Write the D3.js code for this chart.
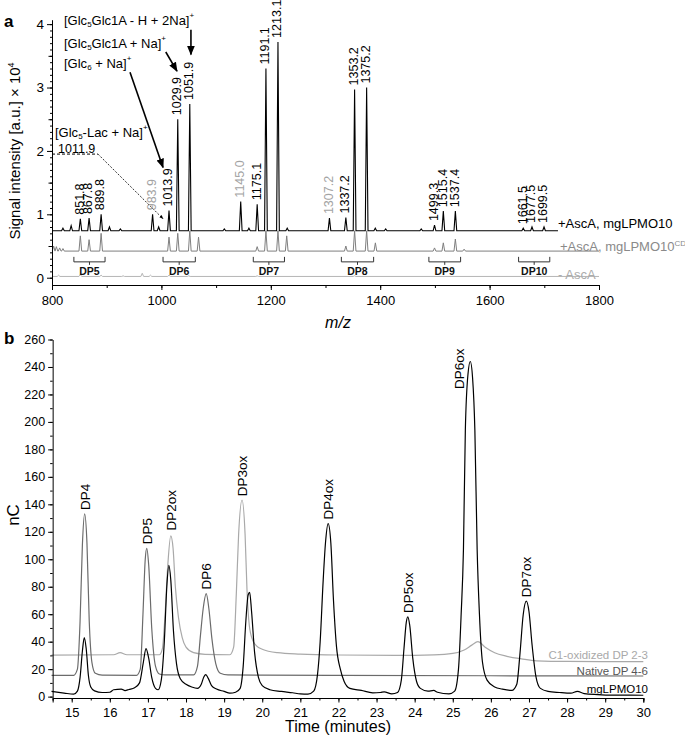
<!DOCTYPE html>
<html>
<head>
<meta charset="utf-8">
<script src="https://cdn.jsdelivr.net/npm/d3@7"></script>
<style>
  body { margin: 0; background: #fff; }
  svg { font-family: "Liberation Sans", Arial, sans-serif; }
  .axis path, .axis line { stroke: #000; }
  .axis text { fill: #000; }
</style>
</head>
<body>
<svg id="chart" width="685" height="737"></svg>
<script>
// ---------- panel a: MALDI-TOF spectra (intensity x 10^4) ----------
const mzBlack = [820, 835, 851.8, 867.8, 889.8, 905, 925, 983.9, 995, 1013.9, 1029.9, 1051.9, 1115, 1145.0, 1160, 1175.1, 1191.1, 1213.1, 1230, 1307.2, 1337.2, 1353.2, 1375.2, 1391, 1410, 1475, 1499.3, 1515.4, 1537.4, 1661.5, 1677.5, 1699.5];
const intBlack = [0.78, 0.82, 0.93, 0.94, 1.0, 0.8, 0.77, 1.0, 0.8, 1.06, 2.5, 2.74, 0.77, 1.2, 0.78, 1.16, 3.3, 3.72, 0.78, 0.94, 0.95, 2.97, 3.0, 0.78, 0.77, 0.77, 0.83, 1.05, 1.05, 0.78, 0.8, 0.8];
const baseBlack = 0.74;

const mzCD = [803, 808, 814, 820, 851.8, 867.8, 889.8, 1013.9, 1029.9, 1051.9, 1067.9, 1175.1, 1191.1, 1213.1, 1229.1, 1337.2, 1353.2, 1375.2, 1391.2, 1499.3, 1515.4, 1537.4, 1553.4];
const intCD = [0.5, 0.49, 0.47, 0.46, 0.66, 0.6, 0.7, 0.64, 0.7, 0.74, 0.64, 0.49, 0.74, 0.74, 0.66, 0.5, 0.74, 0.74, 0.55, 0.47, 0.55, 0.61, 0.45];
const baseCD = 0.42;

const mzNoAsc = [812, 851.8, 889.8, 930, 965, 980, 1013.9, 1050, 1175.1, 1353.2];
const intNoAsc = [0.04, 0.05, 0.04, 0.03, 0.07, 0.04, 0.04, 0.03, 0.03, 0.03];
const baseNoAsc = 0.02;

const peakLabelsA = [851.8, 867.8, 889.8, 983.9, 1013.9, 1029.9, 1051.9, 1145.0, 1175.1, 1191.1, 1213.1, 1307.2, 1337.2, 1353.2, 1375.2, 1499.3, 1515.4, 1537.4, 1661.5, 1677.5, 1699.5];
const greyLabelsA = [983.9, 1145.0, 1307.2];

const dpNames = ["DP5", "DP6", "DP7", "DP8", "DP9", "DP10"];
const dpStart = [840, 1003, 1168, 1329, 1489, 1653];
const dpEnd = [897, 1062, 1225, 1388, 1547, 1710];

// ---------- panel b: HPAEC-PAD chromatograms (nC) ----------
const traceLPMO = [[14.47,3.8],[14.8,2.6],[15.05,1.8],[15.15,4],[15.22,14],[15.28,33],[15.33,43],[15.38,35],[15.44,15],[15.5,7],[15.6,4.2],[15.8,3],[16.0,3.2],[16.1,5],[16.3,5.5],[16.4,4.4],[16.5,5.2],[16.65,6.5],[16.78,10],[16.88,25],[16.95,35],[17.02,28],[17.1,14],[17.2,6],[17.27,5],[17.35,12],[17.43,40],[17.5,82],[17.55,95.5],[17.6,85],[17.67,48],[17.75,24],[17.85,13],[18.0,9],[18.15,7],[18.3,6],[18.4,9],[18.47,14.5],[18.52,16],[18.58,13.5],[18.67,8],[18.8,5.5],[19.0,3.8],[19.15,2.5],[19.3,3.2],[19.42,6],[19.5,22],[19.57,55],[19.63,74],[19.67,76],[19.72,62],[19.8,32],[19.9,14],[20.0,8],[20.2,5],[20.5,3.8],[20.8,2.8],[21.0,2],[21.2,1.8],[21.35,4],[21.45,16],[21.52,40],[21.6,85],[21.66,112],[21.73,126],[21.8,112],[21.87,70],[21.95,36],[22.05,20],[22.15,11],[22.3,6],[22.6,4.5],[22.9,2.8],[23.1,3],[23.2,3.5],[23.4,2],[23.55,3],[23.65,12],[23.72,35],[23.78,54],[23.82,58],[23.87,52],[23.95,28],[24.05,11],[24.15,6],[24.35,4],[24.5,4.5],[24.6,3.2],[24.9,2],[25.05,4],[25.15,20],[25.22,60],[25.28,107],[25.33,194],[25.4,235],[25.46,244],[25.52,232],[25.58,194],[25.64,107],[25.7,60],[25.78,25],[25.9,12],[26.1,7],[26.3,5.5],[26.55,4.5],[26.68,9],[26.76,30],[26.85,60],[26.93,69.5],[27.0,62],[27.08,38],[27.18,15],[27.3,6],[27.5,3.8],[27.8,3],[28.1,2.5],[28.27,3.8],[28.45,2.2],[28.8,1.5],[29.2,1.1],[30,1.0]];
const traceNative = [[14.47,15.5],[15.05,15.5],[15.15,20],[15.22,55],[15.28,110],[15.34,133],[15.4,112],[15.46,55],[15.53,25],[15.62,17],[15.8,15.6],[16.7,15.5],[16.8,20],[16.87,60],[16.93,100],[16.97,108],[17.02,96],[17.1,50],[17.2,22],[17.3,16.5],[17.45,15.8],[18.2,15.8],[18.3,22],[18.38,45],[18.45,64],[18.53,75],[18.6,64],[18.68,42],[18.78,24],[18.9,17],[19.1,15.8],[20,15.6],[22,15.4],[26,15.2],[30,15.0]];
const traceC1 = [[14.47,30.2],[16.1,30.5],[16.27,32],[16.45,30.5],[17.3,30.5],[17.38,35],[17.45,60],[17.52,95],[17.6,117],[17.66,108],[17.72,80],[17.8,58],[17.9,43],[18.0,36],[18.2,32],[18.5,30.8],[19.15,30.5],[19.25,36],[19.32,75],[19.38,118],[19.47,143],[19.55,118],[19.6,78],[19.66,52],[19.75,41],[19.85,37],[20.0,34.5],[20.4,32],[21,31],[22,30.3],[23.5,30],[24.5,30.4],[25.0,31.5],[25.3,34],[25.5,37.5],[25.66,40],[25.85,36],[26.1,32],[26.4,29.5],[26.8,27.5],[27.2,26],[28,25.6],[30,25.5]];

const peakNamesB = ["DP4", "DP5", "DP2ox", "DP6", "DP3ox", "DP4ox", "DP5ox", "DP6ox", "DP7ox"];
const peakTimesB = [15.35, 16.97, 17.62, 18.52, 19.47, 21.73, 23.82, 25.18, 26.94];
const peakTopsB = [133, 108, 118, 75, 143, 126, 58, 221, 69.5];

const svg = d3.select("#chart");

// ================= panel a =================
const xa = d3.scaleLinear().domain([800, 1800]).range([52, 599]);
const ya = d3.scaleLinear().domain([-0.115, 4.07]).range([285, 19.7]);

function spikes(mzs, ints, base, from, to) {
  let pts = [[from, base]];
  mzs.forEach(function (m, i) {
    pts.push([m - 2.5, base], [m, ints[i]], [m + 2.5, base]);
  });
  pts.push([to, base]);
  return pts;
}
let lineA = d3.line().x(d => xa(d[0])).y(d => ya(d[1]));

svg.append("path").datum(spikes(mzNoAsc, intNoAsc, baseNoAsc, 800, 1800))
  .attr("d", lineA).attr("fill", "none").attr("stroke", "#b5b5b5").attr("stroke-width", 1);
svg.append("path").datum(spikes(mzCD, intCD, baseCD, 800, 1800))
  .attr("d", lineA).attr("fill", "none").attr("stroke", "#7f7f7f").attr("stroke-width", 1);
svg.append("path").datum(spikes(mzBlack, intBlack, baseBlack, 800, 1725))
  .attr("d", lineA).attr("fill", "none").attr("stroke", "#000").attr("stroke-width", 1.1);

// axes a
svg.append("g").attr("class", "axis").attr("transform", "translate(0,285)")
  .call(d3.axisBottom(xa).tickValues(d3.range(800, 1801, 100)).tickSize(3).tickFormat(""));
svg.append("g").attr("class", "axis").attr("transform", "translate(0,285)")
  .call(d3.axisBottom(xa).tickValues(d3.range(800, 1801, 200)).tickSize(5).tickFormat(d3.format("d")))
  .call(g => g.selectAll("text").attr("font-size", 13).attr("dy", "0.9em"));
svg.append("g").attr("class", "axis").attr("transform", "translate(52,0)")
  .call(d3.axisLeft(ya).tickValues(d3.range(0, 40.5, 1).map(v => v / 10)).tickSize(2).tickFormat(""))
  .call(g => g.select(".domain").remove());
svg.append("g").attr("class", "axis").attr("transform", "translate(52,0)")
  .call(d3.axisLeft(ya).tickValues([0.5, 1.5, 2.5, 3.5]).tickSize(3.5).tickFormat(""))
  .call(g => g.select(".domain").remove());
svg.append("g").attr("class", "axis").attr("transform", "translate(52,0)")
  .call(d3.axisLeft(ya).tickValues([0, 1, 2, 3, 4]).tickSize(5).tickSizeOuter(0).tickFormat(d3.format("d")))
  .call(g => g.selectAll("text").attr("font-size", 13.5));

// peak labels a
peakLabelsA.forEach(function (m) {
  let idx = mzBlack.indexOf(m);
  let top = intBlack[idx];
  svg.append("text")
    .attr("transform", `translate(${xa(m) - 1},${ya(top) - 4}) rotate(-90)`)
    .attr("dy", "0.35em")
    .attr("font-size", 12.5)
    .attr("fill", greyLabelsA.includes(m) ? "#a3a3a3" : "#000")
    .text(m.toFixed(1));
});

// DP brackets
const yBr = ya(0.25);
dpNames.forEach(function (name, i) {
  let x0 = xa(dpStart[i]), x1 = xa(dpEnd[i]), xm = (x0 + x1) / 2;
  svg.append("path")
    .attr("d", `M${x0},${yBr - 5}V${yBr}H${x1}V${yBr - 5}M${xm},${yBr}V${yBr + 3}`)
    .attr("fill", "none").attr("stroke", "#333").attr("stroke-width", 1);
  svg.append("text").attr("x", xm).attr("y", yBr + 13)
    .attr("text-anchor", "middle").attr("font-size", 10.5).attr("font-weight", "bold")
    .attr("fill", "#111").text(name);
});

// series labels a
svg.append("text").attr("x", 558).attr("y", 227.5).attr("font-size", 13).attr("fill", "#000").text("+AscA, mgLPMO10");
let t2 = svg.append("text").attr("x", 560).attr("y", 251).attr("font-size", 13).attr("fill", "#8a8a8a");
t2.append("tspan").text("+AscA, mgLPMO10");
t2.append("tspan").attr("font-size", 8).attr("dy", -5).text("CD");
svg.append("text").attr("x", 558).attr("y", 278.5).attr("font-size", 13).attr("fill", "#ababab").text("- AscA");

// annotations (compound names + arrows)
const defs = svg.append("defs");
defs.append("marker").attr("id", "ah").attr("viewBox", "0 0 10 10").attr("refX", 9).attr("refY", 5)
  .attr("markerWidth", 6).attr("markerHeight", 6).attr("orient", "auto")
  .append("path").attr("d", "M0,1L10,5L0,9Z").attr("fill", "#000");
defs.append("marker").attr("id", "ahs").attr("viewBox", "0 0 10 10").attr("refX", 9).attr("refY", 5)
  .attr("markerWidth", 5).attr("markerHeight", 5).attr("orient", "auto")
  .append("path").attr("d", "M0,1L10,5L0,9Z").attr("fill", "#000");

function formula(x, y, parts) {
  let t = svg.append("text").attr("x", x).attr("y", y).attr("font-size", 13).attr("fill", "#000");
  parts.forEach(function (p) {
    if (p[1] === "sub") t.append("tspan").attr("font-size", 8).attr("dy", 2).text(p[0]);
    else if (p[1] === "sup") t.append("tspan").attr("font-size", 8).attr("dy", -7).text(p[0]);
    else if (p[1] === "back") t.append("tspan").attr("dy", -2).text(p[0]);
    else t.append("tspan").text(p[0]);
  });
}
formula(64, 24.5, [["[Glc"], ["5", "sub"], ["Glc1A - H + 2Na]", "back"], ["+", "sup"]]);
formula(64, 47.5, [["[Glc"], ["5", "sub"], ["Glc1A + Na]", "back"], ["+", "sup"]]);
formula(64, 67.5, [["[Glc"], ["6", "sub"], [" + Na]", "back"], ["+", "sup"]]);
formula(55, 137, [["[Glc"], ["5", "sub"], ["-Lac + Na]", "back"], ["+", "sup"]]);
svg.append("text").attr("x", 58).attr("y", 153).attr("font-size", 12.5).text("1011.9");

const arrows = [[[1054, 3.91], [1054, 3.52]], [[1008, 3.56], [1028.5, 3.26]], [[942.6, 3.24], [1003, 1.74]]];
arrows.forEach(function (a) {
  svg.append("line").attr("x1", xa(a[0][0])).attr("y1", ya(a[0][1]))
    .attr("x2", xa(a[1][0])).attr("y2", ya(a[1][1]))
    .attr("stroke", "#000").attr("stroke-width", 1.6).attr("marker-end", "url(#ah)");
});
svg.append("line").attr("x1", xa(800)).attr("y1", ya(1.95)).attr("x2", xa(884)).attr("y2", ya(1.95))
  .attr("stroke", "#000").attr("stroke-width", 1).attr("stroke-dasharray", "3,2");
svg.append("line").attr("x1", xa(884)).attr("y1", ya(1.95)).attr("x2", xa(1003)).attr("y2", ya(0.93))
  .attr("stroke", "#000").attr("stroke-width", 0.8).attr("stroke-dasharray", "2,1.5").attr("marker-end", "url(#ahs)");

// axis titles a
svg.append("text").attr("transform", "translate(20,151) rotate(-90)").attr("text-anchor", "middle")
  .attr("font-size", 15).html("Signal intensity [a.u.] × 10<tspan font-size='9' dy='-6'>4</tspan>");
svg.append("text").attr("x", 338).attr("y", 328).attr("text-anchor", "middle")
  .attr("font-size", 16).attr("font-style", "italic").text("m/z");
svg.append("text").attr("x", 4).attr("y", 27).attr("font-size", 17).attr("font-weight", "bold").text("a");

// ================= panel b =================
const xb = d3.scaleLinear().domain([14.5, 30]).range([52.65, 643.3]);
const yb = d3.scaleLinear().domain([-1, 260]).range([698, 339.5]);
let lineB = d3.line().x(d => xb(d[0])).y(d => yb(d[1])).curve(d3.curveMonotoneX);

svg.append("path").datum(traceC1).attr("d", lineB).attr("fill", "none").attr("stroke", "#a9a9a9").attr("stroke-width", 1.2);
svg.append("path").datum(traceNative).attr("d", lineB).attr("fill", "none").attr("stroke", "#6b6b6b").attr("stroke-width", 1.2);
svg.append("path").datum(traceLPMO).attr("d", lineB).attr("fill", "none").attr("stroke", "#000").attr("stroke-width", 1.2);

svg.append("g").attr("class", "axis").attr("transform", "translate(0,698)")
  .call(d3.axisBottom(xb).tickValues(d3.range(14.5, 30.01, 0.5)).tickSize(2.5).tickFormat(""));
svg.append("g").attr("class", "axis").attr("transform", "translate(0,698)")
  .call(d3.axisBottom(xb).tickValues(d3.range(15, 30.01, 1)).tickSize(4.5).tickFormat(d3.format("d")))
  .call(g => g.selectAll("text").attr("font-size", 13).attr("dy", "0.85em"));
svg.append("g").attr("class", "axis").attr("transform", "translate(52.65,0)")
  .call(d3.axisLeft(yb).tickValues(d3.range(0, 261, 10)).tickSize(2.5).tickFormat(""))
  .call(g => g.select(".domain").remove());
svg.append("g").attr("class", "axis").attr("transform", "translate(52.65,0)")
  .call(d3.axisLeft(yb).tickValues(d3.range(0, 261, 20)).tickSize(4.5).tickSizeOuter(0).tickFormat(d3.format("d")))
  .call(g => g.selectAll("text").attr("font-size", 12.5));

peakNamesB.forEach(function (name, i) {
  svg.append("text")
    .attr("transform", `translate(${xb(peakTimesB[i])},${yb(peakTopsB[i]) - 4}) rotate(-90)`)
    .attr("dy", "0.35em").attr("font-size", 13.5).attr("fill", "#000").text(name);
});

svg.append("text").attr("x", 648).attr("y", 659).attr("text-anchor", "end").attr("font-size", 11.5).attr("fill", "#a9a9a9").text("C1-oxidized DP 2-3");
svg.append("text").attr("x", 648).attr("y", 675).attr("text-anchor", "end").attr("font-size", 11.5).attr("fill", "#555").text("Native DP 4-6");
svg.append("text").attr("x", 648).attr("y", 693).attr("text-anchor", "end").attr("font-size", 11.5).attr("fill", "#000").text("mgLPMO10");

svg.append("text").attr("x", 338).attr("y", 732).attr("text-anchor", "middle").attr("font-size", 16).text("Time (minutes)");
svg.append("text").attr("transform", "translate(19,515) rotate(-90)").attr("text-anchor", "middle").attr("font-size", 17).text("nC");
svg.append("text").attr("x", 4).attr("y", 344).attr("font-size", 17).attr("font-weight", "bold").text("b");
</script>
</body>
</html>
